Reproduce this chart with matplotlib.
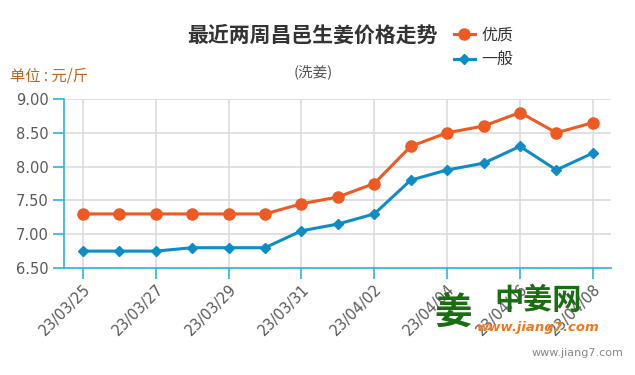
import matplotlib
matplotlib.use("Agg")
import matplotlib.pyplot as plt

plt.rcParams['font.family'] = ['Noto Sans CJK SC', 'DejaVu Sans']

dates = ["23/03/25", "23/03/26", "23/03/27", "23/03/28", "23/03/29", "23/03/30", "23/03/31",
         "23/04/01", "23/04/02", "23/04/03", "23/04/04", "23/04/05", "23/04/06", "23/04/07", "23/04/08"]
premium = [7.30, 7.30, 7.30, 7.30, 7.30, 7.30, 7.45, 7.55, 7.75, 8.30, 8.50, 8.60, 8.80, 8.50, 8.65]
normal = [6.75, 6.75, 6.75, 6.80, 6.80, 6.80, 7.05, 7.15, 7.30, 7.80, 7.95, 8.05, 8.30, 7.95, 8.20]
yticks = [6.50, 7.00, 7.50, 8.00, 8.50, 9.00]

orange = "#ee5a22"
blue = "#0e8cc6"
axis_blue = "#2ab4e4"

fig = plt.figure(figsize=(6.35, 3.75), dpi=100)
ax = fig.add_axes([64/635, 1-268/375, (611-64)/635, (268-99)/375])

x = list(range(len(dates)))
ax.plot(x, premium, color=orange, lw=2.2, marker='o', ms=8, label="优质", zorder=3)
ax.plot(x, normal, color=blue, lw=2.2, marker='D', ms=5.5, label="一般", zorder=3)

ax.set_xlim(-0.52, 14.5)
ax.set_ylim(6.5, 9.0)
ax.set_yticks(yticks)
ax.set_yticklabels([f"{v:.2f}" for v in yticks])
xt = x[::2]
ax.set_xticks(xt)
ax.set_xticklabels([dates[i] for i in xt], rotation=45, ha='right', rotation_mode='anchor')

ax.grid(True, color="#dcdcdc", lw=1.2, zorder=0)
for s in ['top', 'right']:
    ax.spines[s].set_visible(False)
for s in ['left', 'bottom']:
    ax.spines[s].set_color(axis_blue)
    ax.spines[s].set_linewidth(1.2)
ax.tick_params(axis='both', colors=axis_blue, length=8, width=1.2, labelcolor="#5a5a5a", labelsize=10.5)
ax.tick_params(axis='y', pad=3)
ax.tick_params(axis='x', pad=2)
for lab in ax.get_xticklabels() + ax.get_yticklabels():
    lab.set_family(['DejaVu Sans'])

fig.text(312/635, 1-35/375, "最近两周昌邑生姜价格走势", ha='center', va='center',
         fontsize=15, fontweight='bold', color="#333333")
fig.text(313/635, 1-72/375, "(洗姜)", ha='center', va='center', fontsize=10.5, color="#555555")
fig.text(10/635, 1-76/375, "单位 : 元/斤", ha='left', va='center', fontsize=11, color="#c0651e")

leg = fig.legend(loc='upper left', bbox_to_anchor=(454/635, 1-27/375), frameon=False,
                 fontsize=11.5, handlelength=1.3, handletextpad=0.4, labelspacing=0.45,
                 borderaxespad=0, borderpad=0)
for t in leg.get_texts():
    t.set_color("#333333")

# watermark
fig.text(453/635, 1-312/375, "姜", ha='center', va='center', fontsize=27, fontweight='bold', color="#1a6e12")
fig.text(538/635, 1-300/375, "中姜网", ha='center', va='center', fontsize=21, fontweight='bold', color="#1a6e12")
fig.text(538/635, 1-328/375, "www.jiang7.com", ha='center', va='center', fontsize=9.5,
         fontweight='bold', style='italic', color="#f07820", family=['DejaVu Sans'])
fig.text(623/635, 1-353/375, "www.jiang7.com", ha='right', va='center', fontsize=8,
         color="#888888", family=['DejaVu Sans'])

fig.savefig("out.png", dpi=100)
